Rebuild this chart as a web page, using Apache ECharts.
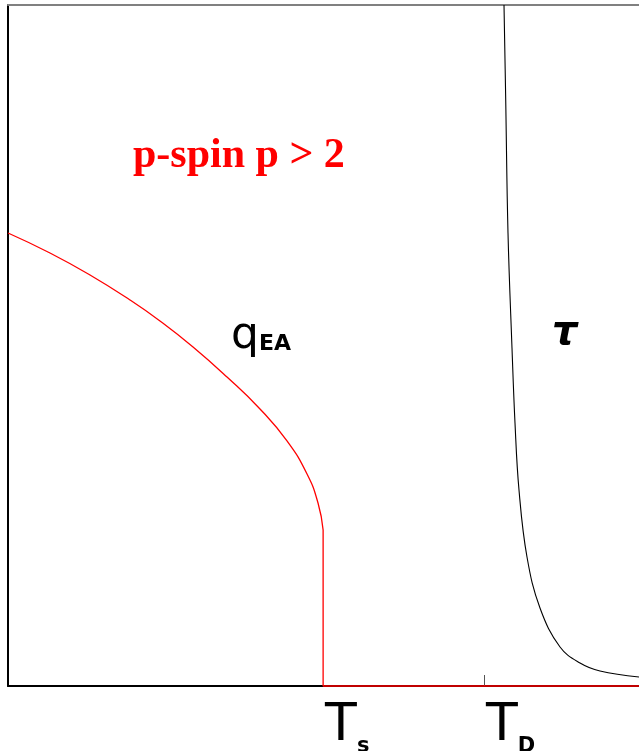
<!DOCTYPE html>
<html>
<head>
<meta charset="utf-8">
<style>
  html, body { margin: 0; padding: 0; background: #fff; }
  #chart { width: 639px; height: 751px; }
</style>
<script src="https://cdn.jsdelivr.net/npm/echarts@6/dist/echarts.min.js"></script>
</head>
<body>
<div id="chart"></div>
<script>
// Temperature in units of the dynamical transition T_D
const T_S = 0.662;
const T_D = 1.0;
const T_MAX = 1.3256;

// Edwards-Anderson order parameter q_EA(T) below T_s (smooth branch)
const qT = [0, 0.0882, 0.1723, 0.2563, 0.3193, 0.3887, 0.4601, 0.5294, 0.5861, 0.6282, 0.6513, 0.662];
const qVal = [0.6652, 0.6358, 0.6035, 0.5668, 0.5360, 0.4978, 0.4537, 0.4068, 0.3598, 0.3113, 0.2687, 0.2291];

// q_EA jumps to zero at T_s and stays zero above it
const qJumpT = [0.662, 0.662, 1.3256];
const qJumpVal = [0.2291, 0, 0];

// Relaxation time tau(T): diverges as T approaches T_D from above
const tauT = [1.042, 1.0456, 1.0504, 1.0588, 1.0651, 1.0735, 1.0903, 1.1176, 1.1597, 1.2017, 1.2437, 1.3256];
const tauVal = [1.0, 0.8605, 0.6652, 0.4963, 0.3862, 0.2878, 0.1894, 0.1145, 0.0573, 0.0338, 0.0220, 0.0132];

// Marked temperatures on the T axis
const tickValues = [T_S, T_D];
const tickSubs = ['s', 'D'];

const chart = echarts.init(document.getElementById('chart'), null, { renderer: 'canvas' });

const zip = (xs, ys) => xs.map((x, i) => [x, ys[i]]);

chart.setOption({
  animation: false,
  backgroundColor: '#ffffff',
  grid: { left: 8, right: 0, top: 5, bottom: 65, containLabel: false, outerBoundsMode: 'none' },
  xAxis: [
    {
      type: 'value', min: 0, max: T_MAX,
      axisLine: { show: true, lineStyle: { color: '#000', width: 2 } },
      splitLine: { show: false },
      axisTick: {
        show: true, inside: true, length: 11,
        customValues: [T_D],
        lineStyle: { color: '#555', width: 1 }
      },
      axisLabel: {
        show: true,
        customValues: tickValues,
        align: 'left',
        margin: 14,
        formatter: (v) => {
          const i = tickValues.findIndex(t => Math.abs(t - v) < 1e-6);
          return '{t|T}{s|' + tickSubs[i] + '}';
        },
        rich: {
          t: { fontFamily: 'DejaVu Sans', fontSize: 52, fontWeight: 'normal', color: '#000', padding: [0, 0, 0, 2] },
          s: { fontFamily: 'DejaVu Sans', fontSize: 21, fontWeight: 'bold', color: '#000', verticalAlign: 'bottom', padding: [0, 0, -5, 0] }
        }
      }
    },
    {
      type: 'value', min: 0, max: T_MAX, position: 'top',
      axisLine: { show: true, lineStyle: { color: '#808080', width: 2 } },
      axisTick: { show: false }, axisLabel: { show: false }, splitLine: { show: false }
    }
  ],
  yAxis: {
    type: 'value', min: 0, max: 1,
    axisLine: { show: true, lineStyle: { color: '#000', width: 2 } },
    axisTick: { show: false }, axisLabel: { show: false }, splitLine: { show: false }
  },
  series: [
    {
      type: 'line', name: 'qEA', data: zip(qT, qVal),
      showSymbol: false, smooth: 0.5, clip: false,
      lineStyle: { color: '#ff0000', width: 1.3 }, z: 3
    },
    {
      type: 'line', name: 'qEA jump', data: zip(qJumpT, qJumpVal),
      showSymbol: false, smooth: false, clip: false,
      lineStyle: { color: '#ff0000', width: 1.3 }, z: 3
    },
    {
      type: 'line', name: 'tau', data: zip(tauT, tauVal),
      showSymbol: false, smooth: 0.4, clip: false,
      lineStyle: { color: '#000', width: 1.1 }, z: 2
    }
  ],
  graphic: [
    {
      type: 'text', left: 133, top: 135,
      style: { text: 'p-spin p > 2', fontFamily: 'Liberation Serif', fontWeight: 'bold', fontSize: 42, fill: '#ff0000' }
    },
    {
      type: 'text', left: 231, top: 315,
      style: {
        text: '{q|q}{e|EA}',
        rich: {
          q: { fontFamily: 'DejaVu Sans', fontSize: 44, color: '#000' },
          e: { fontFamily: 'DejaVu Sans', fontSize: 22, fontWeight: 'bold', color: '#000', verticalAlign: 'bottom', padding: [0, 0, 4, 0] }
        }
      }
    },
    {
      type: 'text', left: 552, top: 314,
      style: { text: 'τ', fontFamily: 'DejaVu Sans', fontStyle: 'italic', fontWeight: 'bold', fontSize: 40, fill: '#000' }
    }
  ]
});
</script>
</body>
</html>
